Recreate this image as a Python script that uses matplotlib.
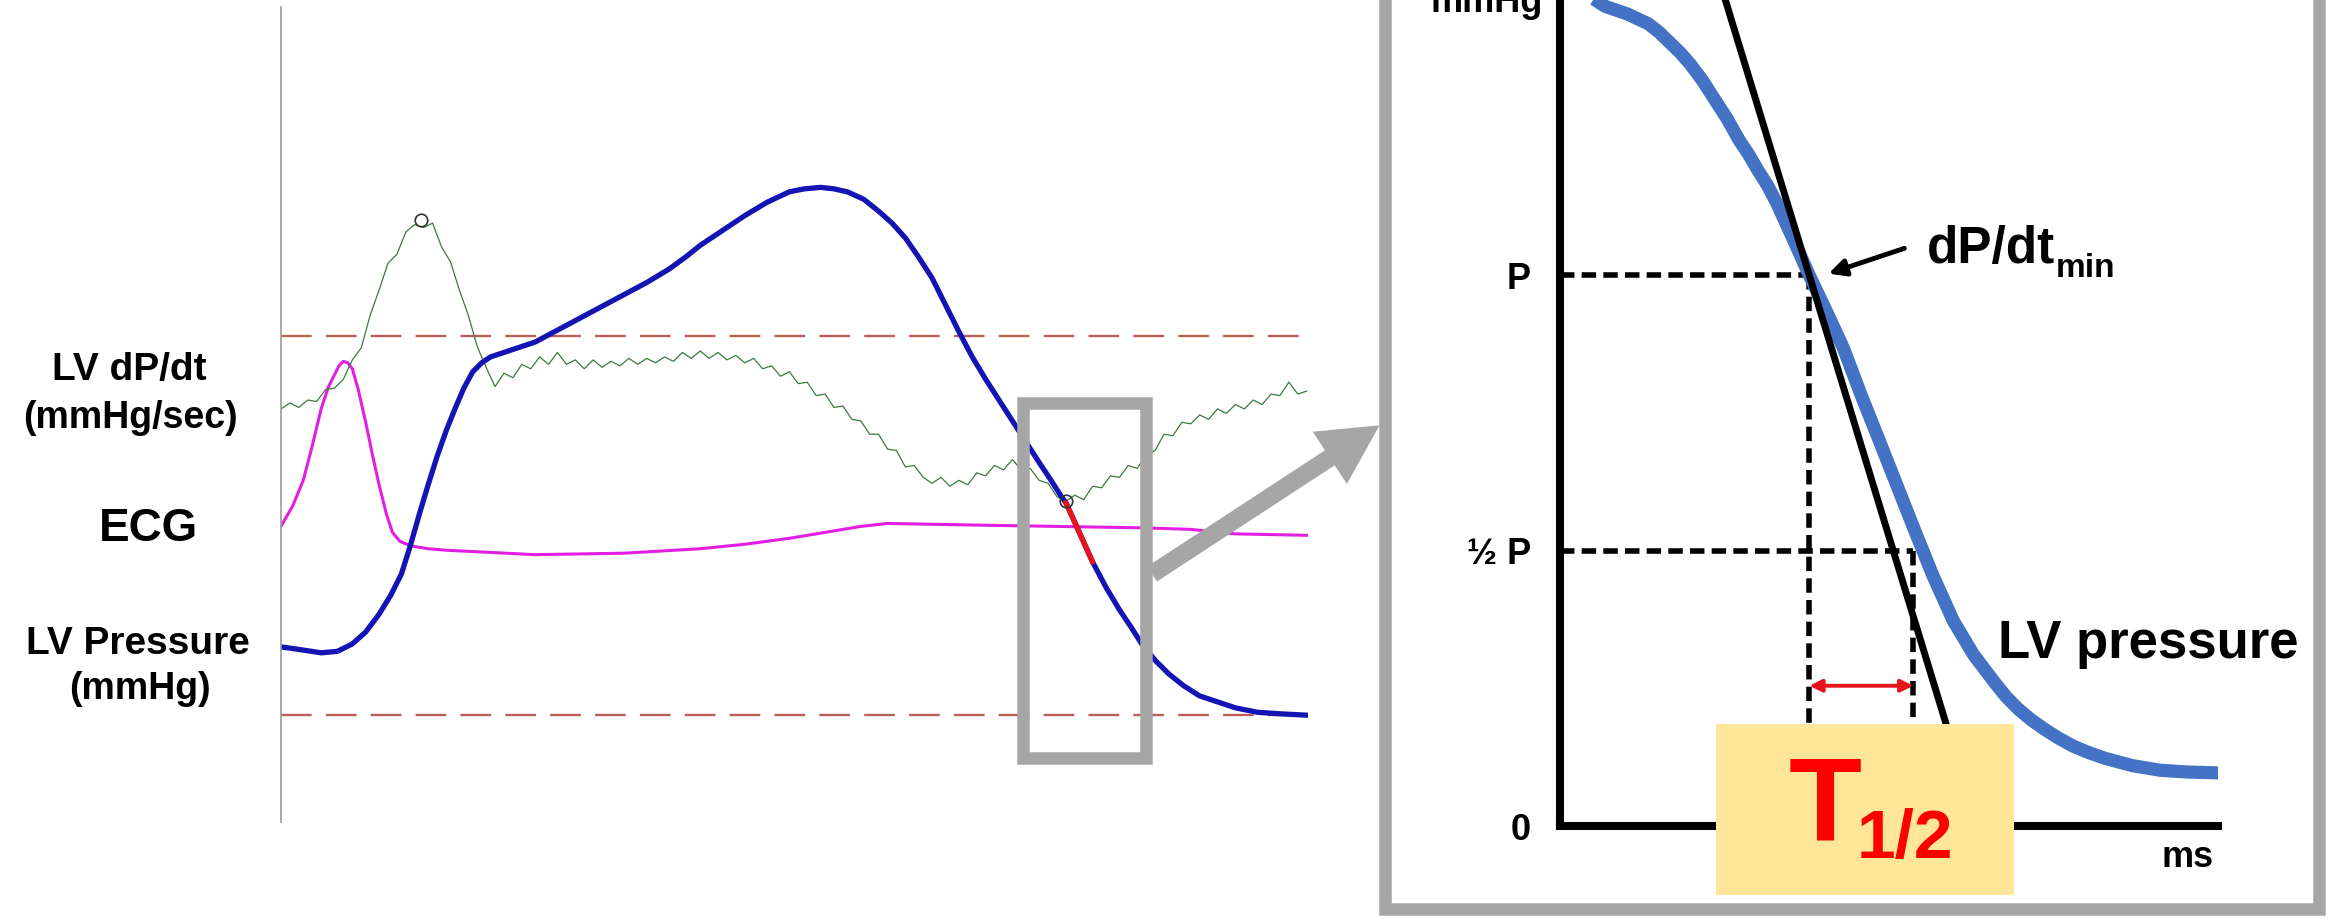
import numpy as np
import matplotlib
matplotlib.use("Agg")
import matplotlib.pyplot as plt
from matplotlib.patches import Rectangle, FancyArrow

plt.rcParams['font.family'] = ['Liberation Sans', 'DejaVu Sans']
plt.rcParams['font.weight'] = 'bold'

# ---- left panel: recorded traces (time from the gray axis, trace level) ----
press_t = [0, 14, 27, 38, 48, 57, 66, 74, 81, 87, 93, 99, 105, 111, 117, 123, 129, 135,
           141, 156, 171, 186, 201, 216, 231, 246, 261, 272, 282, 297, 312, 327, 342, 352,
           363, 372, 381, 392, 402, 411, 420, 429, 438, 447, 456, 465, 474, 483, 492, 501,
           510, 518, 525, 528, 546, 555, 564, 572, 579, 588, 597, 607, 618, 630, 642, 657,
           672, 691]
press_v = [183, 181, 179, 180, 185, 193, 205, 218, 232, 251, 272, 292, 311, 328, 343, 357, 368, 374,
           378, 383, 388, 396, 404, 412, 420, 428, 437, 445, 453, 463, 473, 482, 489, 491,
           492, 491, 489, 484, 476, 468, 458, 445, 431, 413, 395, 378, 363, 349, 335, 321,
           307, 295, 284, 280, 240, 223, 208, 196, 185, 174, 165, 157, 150, 146, 142, 139,
           138, 137]
relax_t = [528, 537, 546]      # red segment used for T1/2
relax_v = [280, 260, 240]

ecg_t = [0, 8, 15, 21, 27, 32, 36, 39, 42, 45, 48, 52, 57, 62, 66, 71, 75, 80, 87, 99,
         111, 171, 231, 282, 312, 342, 372, 390, 408, 462, 522, 582, 612, 642, 691]
ecg_v = [264, 278, 295, 318, 343, 358, 366, 372, 375, 374, 370, 356, 334, 310, 292, 272, 260, 254, 251, 249,
         248, 245, 246, 249, 252, 256, 261, 264, 266, 265, 264, 263, 262, 259, 258]

dpdt_t = np.arange(0, 696, 6)
dpdt_v = [343, 347, 344, 349, 348, 356, 357, 363, 376, 384,
          406, 423, 441, 447, 462, 467, 465, 468, 452, 442,
          423, 406, 385, 371, 358, 367, 364, 373, 370, 378,
          373, 381, 373, 376, 370, 376, 371, 375, 372, 377,
          373, 377, 374, 378, 375, 381, 377, 382, 377, 381,
          376, 379, 374, 377, 370, 372, 365, 368, 360, 361,
          352, 353, 344, 345, 336, 335, 326, 326, 316, 315,
          304, 305, 297, 293, 297, 291, 295, 292, 300, 298,
          305, 302, 309, 302, 303, 295, 293, 284, 281, 285,
          282, 291, 290, 298, 297, 305, 303, 312, 315, 326,
          325, 334, 333, 339, 336, 343, 340, 346, 343, 349,
          346, 353, 352, 361, 353, 355]
dpdt_marks_t = [94, 528]     # dP/dt max and min
dpdt_marks_v = [470, 281]
ref_levels = [392, 137]

left_labels = ["LV dP/dt", "(mmHg/sec)", "ECG", "LV Pressure", "(mmHg)"]

# ---- right panel: schematic of isovolumic relaxation (ms, mmHg) ----
decay_t = [2.0, 4.5, 6.9, 10.2, 13.5, 15.1, 16.7, 18.3, 19.9, 21.7, 23.5, 25.5, 27.4, 28.8,
           30.2, 31.7, 33.1, 35.6, 38.1, 40.7, 43.3, 46.0, 48.8, 51.4, 54.0, 57.0, 60.1,
           63.2, 66.5, 68.2, 70.0, 72.0, 74.0, 76.2, 78.5, 80.9, 83.3, 87.5, 91.7, 96.0, 101.0]
decay_p = [91.5, 90.4, 89.3, 88.5, 87.4, 86.5, 85.4, 84.3, 83.0, 81.3, 79.3, 77.1, 74.7, 73.2,
           71.5, 69.8, 67.9, 64.0, 60.0, 56.1, 52.1, 47.0, 42.0, 37.3, 32.6, 27.3, 22.4,
           18.7, 15.6, 14.1, 12.8, 11.6, 10.6, 9.6, 8.7, 8.0, 7.4, 6.6, 6.1, 5.9, 5.8]
tangent_t = [24.4, 62.5]
tangent_p = [92.0, 3.0]
p_peak = 60
p_half = 30
t_peak = 38.1
t_half = 54.0
t12_level = 15.3

W, H = 1568, 618
fig = plt.figure(figsize=(23.31, 9.19), dpi=100)

# left traces
ax_l = fig.add_axes([189 / W, 0, 691 / W, 1])
ax_l.set_xlim(0, 691)
ax_l.set_ylim(0, 618)
ax_l.patch.set_alpha(0)
for s in ['top', 'right', 'bottom']:
    ax_l.spines[s].set_visible(False)
ax_l.spines['left'].set_bounds(65, 613)
ax_l.spines['left'].set_color('#9a9a9a')
ax_l.spines['left'].set_linewidth(1.2)
ax_l.set_xticks([])
ax_l.set_yticks([])

for lv in ref_levels:
    ax_l.axhline(lv, color='#bb5f5a', lw=1.7, dashes=(13, 6))
ax_l.plot(ecg_t, ecg_v, color='#e31ee3', lw=2.2, solid_joinstyle='round')
ax_l.plot(dpdt_t, dpdt_v, color='#3c7a3c', lw=0.9)
ax_l.plot(press_t, press_v, color='#1414b4', lw=3.8, solid_joinstyle='round', solid_capstyle='round')
ax_l.plot(relax_t, relax_v, color='#e8141c', lw=3.8, solid_capstyle='round')
ax_l.plot(dpdt_marks_t, dpdt_marks_v, 'o', ms=9, mfc='none', mec='#333333', mew=1.2)

# right schematic
ax_r = fig.add_axes([1049.5 / W, (618 - 555.6) / H, (1492 - 1049.5) / W, 555.6 / H])
ax_r.set_xlim(0, 100.6)
ax_r.set_ylim(0, 90)
ax_r.patch.set_alpha(0)
for s in ['top', 'right']:
    ax_r.spines[s].set_visible(False)
for s in ['left', 'bottom']:
    ax_r.spines[s].set_linewidth(5.8)
    ax_r.spines[s].set_capstyle('projecting')
ax_r.set_xticks([])
ax_r.set_yticks([0, p_half, p_peak])
ax_r.set_yticklabels(['0', '½ P', 'P'], fontsize=26, fontweight='bold')
ax_r.tick_params(axis='y', length=0, pad=21)

dash = dict(color='black', lw=4, dashes=(2.6, 1.3))
ax_r.plot([0, t_peak], [p_peak, p_peak], **dash)
ax_r.plot([0, t_half], [p_half, p_half], **dash)
ax_r.plot([t_peak, t_peak], [p_peak, 0], **dash)
ax_r.plot([t_half, t_half], [p_half, 0], **dash)
ax_r.plot(decay_t, decay_p, color='#4472c4', lw=9.5, solid_capstyle='butt',
          solid_joinstyle='round', zorder=3)
ax_r.plot(tangent_t, tangent_p, color='black', lw=5, zorder=4)
ax_r.annotate('', xy=(t_half, t12_level), xytext=(t_peak, t12_level),
              arrowprops=dict(arrowstyle='<|-|>', color='#e8141c', lw=2.8,
                              mutation_scale=18, shrinkA=0, shrinkB=0))

# overlay for labels, frames and the connecting arrow (picture units)
ov = fig.add_axes([0, 0, 1, 1], zorder=5)
ov.set_xlim(0, W)
ov.set_ylim(H, 0)
ov.axis('off')

ov.add_patch(Rectangle((688, 271), 83, 239, fill=False, ec='#a6a6a6', lw=9))
ov.add_patch(Rectangle((931.5, -40), 628.5, 651, fill=False, ec='#a6a6a6', lw=9))
ov.add_patch(FancyArrow(775, 386, 153, -100, width=12, head_width=42, head_length=40,
                        length_includes_head=True, color='#a6a6a6', lw=0))

ov.text(87, 249, left_labels[0], fontsize=28, ha='center', va='center')
ov.text(88, 281, left_labels[1], fontsize=27, ha='center', va='center')
ov.text(100, 356, left_labels[2], fontsize=33, ha='center', va='center')
ov.text(93, 433, left_labels[3], fontsize=28, ha='center', va='center')
ov.text(94, 463, left_labels[4], fontsize=27, ha='center', va='center')

ov.text(1038, 8, 'mmHg', fontsize=26, ha='right', va='baseline')
ov.text(1489, 583, 'ms', fontsize=26, ha='right', va='baseline')
ov.text(1445, 433, 'LV pressure', fontsize=38, ha='center', va='center')
ov.text(1296, 177, 'dP/dt', fontsize=37, ha='left', va='baseline')
ov.text(1383, 186, 'min', fontsize=24, ha='left', va='baseline')
ov.annotate('', xy=(1230, 184), xytext=(1281, 167),
            arrowprops=dict(arrowstyle='-|>', color='black', lw=3.5, mutation_scale=25,
                            shrinkA=0, shrinkB=0))

ov.add_patch(Rectangle((1154, 487), 201, 115, fc='#ffe699', ec='none'))
ov.text(1203, 565, 'T', fontsize=86, color='#ff0000', ha='left', va='baseline')
ov.text(1249, 577, '1/2', fontsize=50, color='#ff0000', ha='left', va='baseline')

fig.savefig('out.png', dpi=100, facecolor='white')
